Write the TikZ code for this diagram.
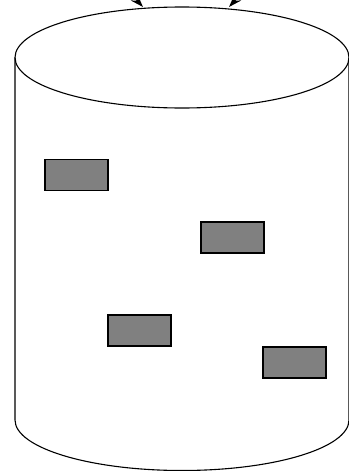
\documentclass[tikz,border=0pt]{standalone}
\usepackage{tikz}
\usetikzlibrary{arrows.meta}

\begin{document}
\begin{tikzpicture}[x=1pt,y=-1pt,line width=1.1pt]
\useasboundingbox (0,0) rectangle (348,471);
\tikzset{item/.style={draw=black,fill=gray,minimum width=63pt,minimum height=31pt,inner sep=0pt}}
% cylinder
\draw (182,57.5) ellipse [x radius=167, y radius=50.5];
\draw (15,57.5) -- (15,420) arc [start angle=180, end angle=360, x radius=167, y radius=-50.5] -- (349,57.5);
\coordinate (inL) at (143,7);
\coordinate (inR) at (229,7);
\coordinate (srcL) at (95,-45);
\coordinate (srcR) at (277,-45);
\draw[-{Stealth[length=13pt,width=9pt]}] (srcL) -- (inL);
\draw[-{Stealth[length=13pt,width=9pt]}] (srcR) -- (inR);
% items
\foreach \n/\x/\y in {a/76.5/175, b/232.5/237.5, c/139.5/330.5, d/294.5/362.5} {
  \node[item] (\n) at (\x,\y) {};
}
\end{tikzpicture}
\end{document}
